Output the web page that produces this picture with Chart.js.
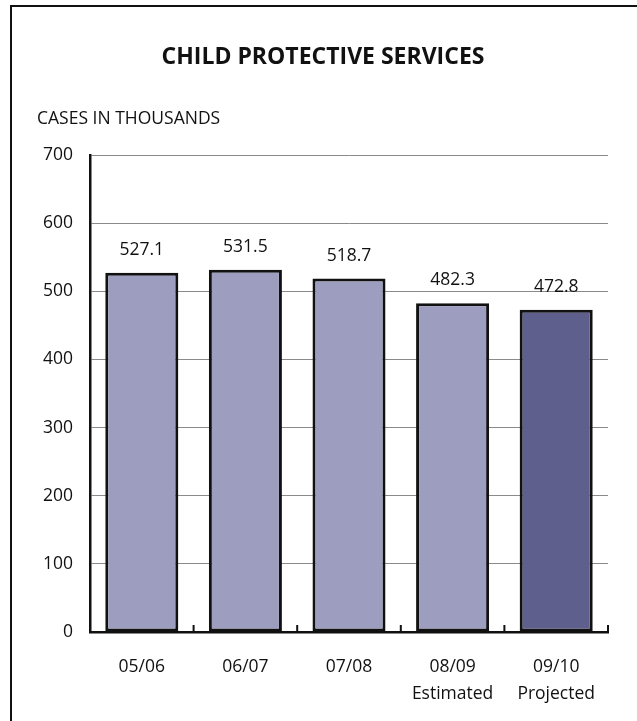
<!DOCTYPE html>
<html>
<head>
<meta charset="utf-8">
<title>Child Protective Services</title>
<script src="https://cdn.jsdelivr.net/npm/chart.js@4.4.1/dist/chart.umd.min.js"></script>
<style>
  html, body { margin: 0; padding: 0; background: #fff; }
  #wrap { position: relative; width: 637px; height: 721px; overflow: hidden; }
  #frame { position: absolute; left: 10px; top: 5px; right: -4px; bottom: -4px;
           border-top: 2px solid #111; border-left: 2px solid #111; }
  canvas { position: absolute; left: 0; top: 0; }
</style>
</head>
<body>
<div id="wrap">
  <div id="frame"></div>
  <canvas id="chart" width="637" height="721"></canvas>
</div>
<script>
// Fiscal years and their caseloads (thousands)
const years = ['05/06', '06/07', '07/08', '08/09', '09/10'];
const yearNotes = ['', '', '', 'Estimated', 'Projected'];
const cases = [527.1, 531.5, 518.7, 482.3, 472.8];
const yTicks = [0, 100, 200, 300, 400, 500, 600, 700];

const chartTitle = 'CHILD PROTECTIVE SERVICES';
const unitLabel = 'CASES IN THOUSANDS';

const lightBar = '#9d9dc0';
const darkBar = '#5f5f8e';
const ink = '#111111';

const labels = years.map((y, i) => yearNotes[i] ? [y, yearNotes[i]] : y);
const barColors = cases.map((_, i) => i === cases.length - 1 ? darkBar : lightBar);

Chart.defaults.font.family = "'Open Sans', 'Noto Sans', sans-serif";
Chart.defaults.font.size = 17.5;
Chart.defaults.color = ink;

// Title and unit caption above the plot
const headings = {
  id: 'headings',
  afterDraw(chart) {
    const ctx = chart.ctx;
    ctx.save();
    ctx.fillStyle = ink;
    ctx.textBaseline = 'alphabetic';
    ctx.font = "bold 23px 'Open Sans', sans-serif";
    ctx.textAlign = 'center';
    ctx.fillText(chartTitle, 323, 64);
    ctx.font = "17.5px 'Open Sans', sans-serif";
    ctx.textAlign = 'left';
    ctx.fillText(unitLabel, 37, 124);
    ctx.restore();
  }
};

// Value labels over each bar
const valueLabels = {
  id: 'valueLabels',
  afterDatasetsDraw(chart) {
    const ctx = chart.ctx;
    const meta = chart.getDatasetMeta(0);
    ctx.save();
    ctx.fillStyle = ink;
    ctx.font = "17.5px 'Open Sans', sans-serif";
    ctx.textAlign = 'center';
    ctx.textBaseline = 'alphabetic';
    meta.data.forEach((bar, i) => {
      ctx.fillText(cases[i].toFixed(1), bar.x, bar.y - 18);
    });
    ctx.restore();
  }
};

// Short upward tick marks between categories on the category axis
const categoryTicks = {
  id: 'categoryTicks',
  afterDatasetsDraw(chart) {
    const x = chart.scales.x;
    const area = chart.chartArea;
    const ctx = chart.ctx;
    ctx.save();
    ctx.strokeStyle = ink;
    ctx.lineWidth = 2;
    ctx.beginPath();
    for (let i = 0; i < years.length; i++) {
      const px = i < years.length - 1
        ? (x.getPixelForValue(i) + x.getPixelForValue(i + 1)) / 2
        : area.right;
      ctx.moveTo(px, area.bottom);
      ctx.lineTo(px, area.bottom - 7);
    }
    ctx.stroke();
    ctx.restore();
  }
};

new Chart(document.getElementById('chart'), {
  type: 'bar',
  data: {
    labels: labels,
    datasets: [{
      data: cases,
      backgroundColor: barColors,
      borderColor: ink,
      borderWidth: 3,
      borderSkipped: false,
      categoryPercentage: 1,
      barPercentage: 0.705
    }]
  },
  options: {
    responsive: false,
    animation: false,
    events: [],
    layout: { padding: { top: 155, right: 29, bottom: 0, left: 0 } },
    plugins: {
      legend: { display: false },
      title: { display: false },
      tooltip: { enabled: false }
    },
    scales: {
      x: {
        grid: { display: false, drawTicks: false },
        border: { display: true, color: ink, width: 2.5 },
        ticks: { color: ink, padding: 21, font: { size: 17.5, lineHeight: 1.55 }, maxRotation: 0 },
        afterFit(scale) { scale.height = 89; }
      },
      y: {
        min: 0,
        max: 700,
        afterBuildTicks(scale) { scale.ticks = yTicks.map(v => ({ value: v })); },
        grid: { color: '#8a8a8a', lineWidth: 1, drawTicks: false },
        border: { display: true, color: ink, width: 2.5 },
        ticks: { color: ink, padding: 17, font: { size: 17.5 } },
        afterFit(scale) { scale.width = 90; }
      }
    }
  },
  plugins: [headings, valueLabels, categoryTicks]
});
</script>
</body>
</html>
